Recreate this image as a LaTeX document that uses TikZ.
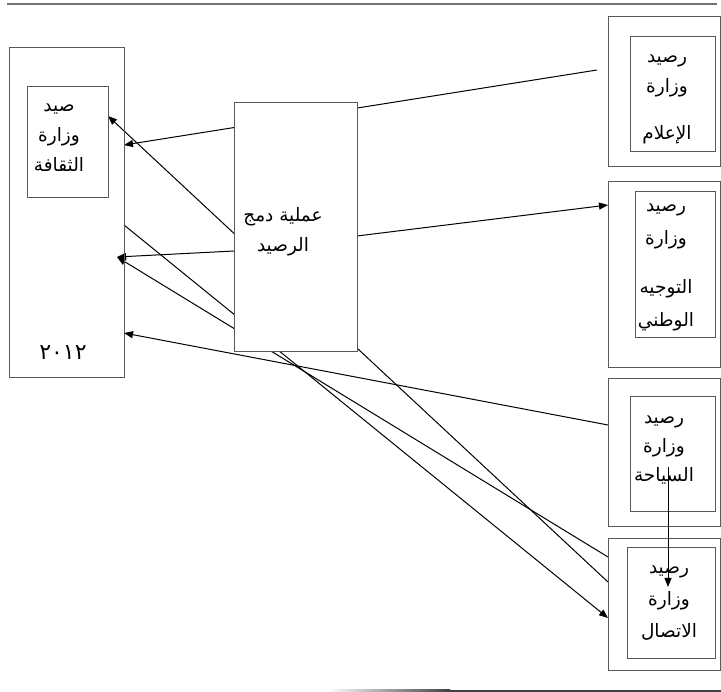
\documentclass[tikz,border=0pt]{standalone}
\usepackage{fontspec}
\usepackage{tikz}
\usetikzlibrary{positioning,arrows.meta,backgrounds}
\newfontfamily\arabicfont[Script=Arabic]{DejaVu Sans}
\TeXXeTstate=1
\newcommand{\artext}[1]{\beginR #1\endR}

\begin{document}
\begin{tikzpicture}[
  x=1pt, y=-1pt,
  box/.style={
    draw=black!65,
    line width=1pt,
    inner sep=0pt,
    outer sep=0pt
  },
  txt/.style={
    font=\arabicfont\fontsize{18.5}{30}\selectfont,
    align=center,
    inner sep=0pt
  },
  link/.style={draw=black,line width=1pt},
  arrow/.style={link,-{Triangle[length=9pt,width=7pt]}}
]
  \useasboundingbox (0,0) rectangle (721,692);

  \draw[black!55,line width=1.8pt] (7,4) -- (717,4);
  \shade[left color=white,right color=black!75] (327,689.5) rectangle (450,691.5);
  \fill[black!75] (450,689.5) rectangle (721,691.5);

  \node[box,minimum width=115pt,minimum height=330pt] (culture) at (66.5,213) {};
  \node[box,minimum width=81pt,minimum height=111pt] (cultureIn) at (67.5,142.5) {};
  \node[txt] (cultureTxt) at (59,138) {\artext{صيد}\\\artext{وزارة}\\\artext{الثقافة}};
  \node[txt,font=\arabicfont\fontsize{22}{30}\selectfont] (year) at (63,353) {٢٠١٢};

  \node[box,fill=white,minimum width=123pt,minimum height=249pt] (merge) at (295.5,227.5) {};
  \node[txt] (mergeTxt) at (283,232) {\artext{عملية دمج}\\\artext{الرصيد}};

  \node[box,minimum width=112pt,minimum height=150pt] (info) at (664,92) {};
  \node[box,minimum width=85pt,minimum height=115pt] (infoIn) at (672.5,94.5) {};
  \node[txt] (infoTxt) at (667,99) {\artext{رصيد}\\\artext{وزارة}\\[17pt]\artext{الإعلام}};

  \node[box,minimum width=112pt,minimum height=186pt] (guidance) at (664,275) {};
  \node[box,minimum width=80pt,minimum height=146pt] (guidanceIn) at (675,265) {};
  \node[txt,font=\arabicfont\fontsize{18.5}{33}\selectfont] (guidanceTxt) at (666,267)
    {\artext{رصيد}\\\artext{وزارة}\\[16pt]\artext{التوجيه}\\\artext{الوطني}};

  \node[box,minimum width=112pt,minimum height=148pt] (tourism) at (664,453) {};
  \node[box,minimum width=85pt,minimum height=115pt] (tourismIn) at (672.5,454.5) {};
  \node[txt,font=\arabicfont\fontsize{18.5}{29}\selectfont] (tourismTxt) at (664,450)
    {\artext{رصيد}\\\artext{وزارة}\\\artext{السياحة}};

  \node[box,minimum width=112pt,minimum height=131pt] (comm) at (664,604.5) {};
  \node[box,minimum width=88pt,minimum height=110pt] (commIn) at (671,603) {};
  \node[txt,font=\arabicfont\fontsize{18.5}{32}\selectfont] (commTxt) at (669,603)
    {\artext{رصيد}\\\artext{وزارة}\\\artext{الاتصال}};

  \coordinate (infoEnd) at (597,70);
  \coordinate (tip) at (117,257);
  \coordinate (tourismDrop) at (668,467);
  \coordinate (commDrop) at (668,587);

  \begin{scope}[on background layer]
    \draw[arrow] (infoEnd) -- (culture.east |- 0,145);
    \draw[arrow] (merge.east |- 0,236) -- (guidance.west |- 0,205);
    \draw[arrow] (merge.west |- 0,251) -- (tip);
    \draw[arrow] (comm.west |- 0,582) -- (cultureIn.east |- 0,116);
    \draw[arrow] (culture.east |- 0,225) -- (comm.west |- 0,618);
    \draw[arrow] (comm.west |- 0,557) -- (tip);
    \draw[arrow] (tourism.west |- 0,425) -- (culture.east |- 0,333);
  \end{scope}
  \draw[arrow] (tourismDrop) -- (commDrop);
\end{tikzpicture}
\end{document}
